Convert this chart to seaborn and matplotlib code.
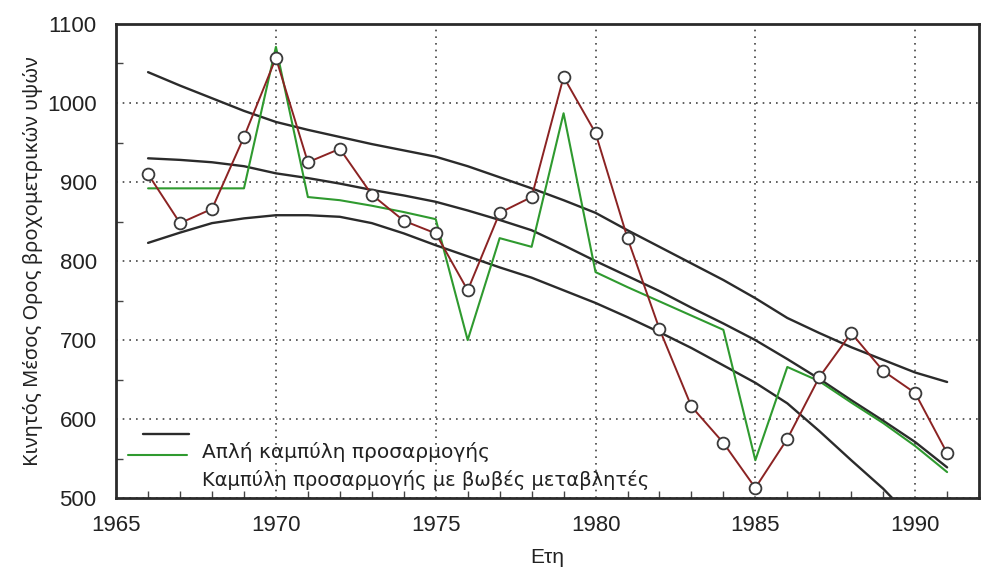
import numpy as np
import pandas as pd
import matplotlib
matplotlib.use("Agg")
import matplotlib.pyplot as plt
from matplotlib.ticker import MultipleLocator
import seaborn as sns

# Annual series (years 1966-1991)
years = list(range(1966, 1992))

# Moving average of rainfall heights (observed)
observed = [910, 848, 866, 957, 1057, 925, 942, 884, 851, 835, 763, 861, 881,
            1033, 962, 829, 714, 616, 570, 513, 575, 653, 709, 661, 633, 557]

# Fit with dummy variables
dummy_fit = [892, 892, 892, 892, 1071, 881, 877, 870, 862, 853, 700, 829, 818,
             987, 786, 767, 749, 731, 713, 548, 666, 648, 621, 595, 566, 533]

# Simple fitted curve and its upper / lower bands
simple_fit = [930, 928, 925, 920, 911, 905, 898, 890, 883, 875, 864, 852, 839,
              820, 800, 781, 762, 741, 721, 700, 676, 651, 624, 598, 571, 539]
upper_band = [1039, 1022, 1006, 990, 976, 966, 957, 948, 940, 932, 920, 906, 892,
              877, 861, 839, 818, 797, 776, 753, 728, 709, 691, 675, 659, 647]
lower_band = [823, 836, 848, 854, 858, 858, 856, 848, 835, 820, 806, 792, 779,
              763, 747, 729, 710, 690, 668, 646, 620, 585, 548, 512, 470, 430]

legend_labels = ["Απλή καμπύλη προσαρμογής",
                 "Καμπύλη προσαρμογής με βωβές μεταβλητές"]
x_label = "Ετη"
y_label = "Κινητός Μέσος Ορος βροχομετρικών υψών"

df = pd.DataFrame({
    "year": years,
    "observed": observed,
    "dummy": dummy_fit,
    "simple": simple_fit,
    "upper": upper_band,
    "lower": lower_band,
})

sns.set_style("ticks")
plt.rcParams["font.family"] = ["Liberation Sans", "DejaVu Sans"]

fig = plt.figure(figsize=(9.84, 5.70), dpi=100)
ax = fig.add_axes([0.118, 0.126, 0.877, 0.832])

curve_color = "#2b2b2b"
for col in ["upper", "simple", "lower"]:
    sns.lineplot(data=df, x="year", y=col, ax=ax, color=curve_color,
                 linewidth=1.7, zorder=3)

sns.lineplot(data=df, x="year", y="dummy", ax=ax, color="#2f9a2f",
             linewidth=1.5, zorder=4)

sns.lineplot(data=df, x="year", y="observed", ax=ax, color="#8b2323",
             linewidth=1.4, marker="o", markersize=8.5,
             markerfacecolor="white", markeredgecolor="#3a3a3a",
             markeredgewidth=1.3, zorder=5, clip_on=False)

ax.set_xlim(1965, 1992)
ax.set_ylim(500, 1100)
ax.xaxis.set_major_locator(MultipleLocator(5))
ax.xaxis.set_minor_locator(MultipleLocator(1))
ax.yaxis.set_major_locator(MultipleLocator(100))
ax.yaxis.set_minor_locator(MultipleLocator(50))

ax.grid(True, which="major", color="#444444", linestyle=(0, (1, 3)),
        linewidth=1.2)
ax.tick_params(axis="both", which="major", direction="in", length=0,
               labelsize=16, colors="#222222")
ax.tick_params(axis="both", which="minor", direction="in", length=5,
               width=1, color="#444444")
ax.tick_params(axis="x", which="major", pad=12)
ax.tick_params(axis="y", which="major", pad=14)

for s in ax.spines.values():
    s.set_visible(True)
    s.set_linewidth(2.0)
    s.set_color("#2a2a2a")

ax.set_xlabel(x_label, fontsize=15, color="#222222", labelpad=9)
ax.set_ylabel(y_label, fontsize=14.5, color="#222222", labelpad=0,
              family=["Noto Sans", "DejaVu Sans"])
ax.yaxis.set_label_coords(-0.085, 0.50)

# Legend keys and labels in the lower-left corner
ax.plot([0.031, 0.085], [0.135, 0.135], transform=ax.transAxes,
        color=curve_color, linewidth=1.7, zorder=6)
ax.plot([0.014, 0.082], [0.091, 0.091], transform=ax.transAxes,
        color="#2f9a2f", linewidth=1.5, zorder=6)
ax.text(0.1, 0.097, legend_labels[0], transform=ax.transAxes, fontsize=14.5,
        va="center", ha="left", color="#222222",
        family=["DejaVu Sans"])
ax.text(0.1, 0.038, legend_labels[1], transform=ax.transAxes, fontsize=14,
        va="center", ha="left", color="#222222",
        family=["DejaVu Sans"])

fig.savefig("out.png", dpi=100)
